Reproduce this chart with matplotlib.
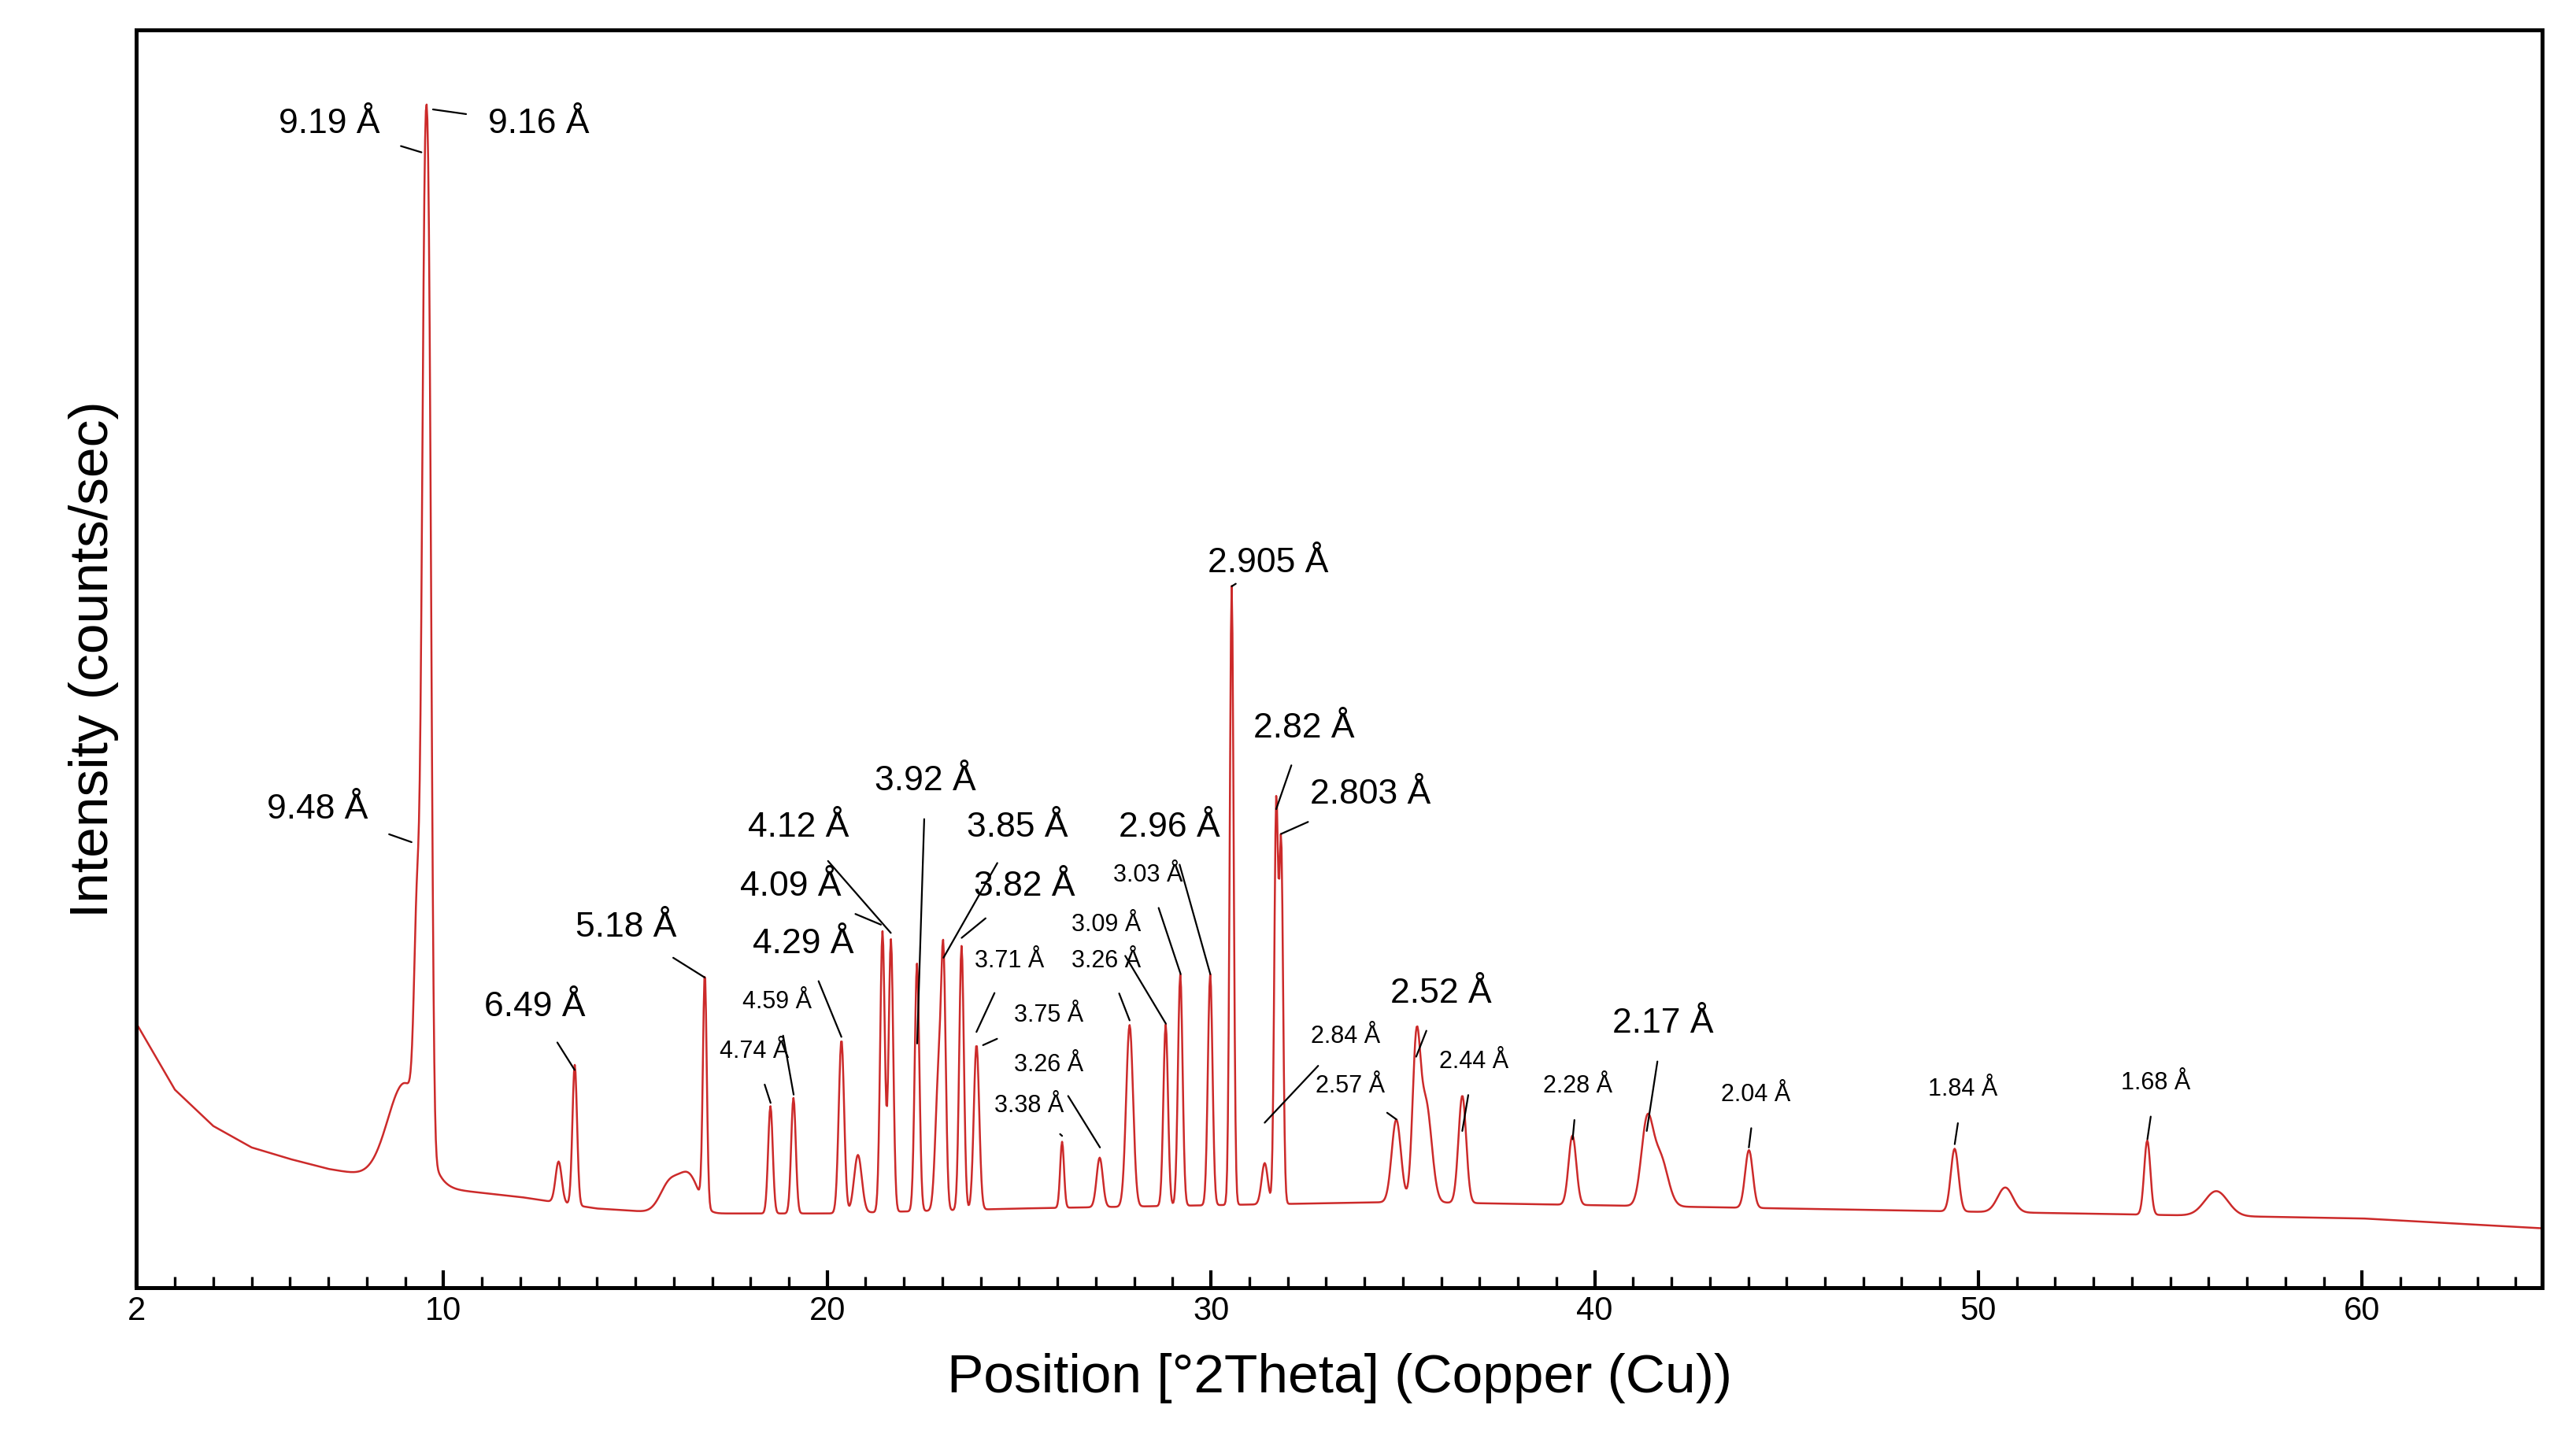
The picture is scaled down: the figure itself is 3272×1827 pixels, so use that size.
import numpy as np
import matplotlib.pyplot as plt
from matplotlib.ticker import MultipleLocator

plt.rcParams['font.family'] = ['Liberation Sans', 'DejaVu Sans']

# background (2theta, intensity)
bg_x = [2, 3, 4, 5, 6, 7, 8, 9, 10, 12, 14, 16, 18, 20, 25, 30, 35, 40, 45, 50, 55, 60, 64.7]
bg_y = [160, 120, 98, 85, 78, 72, 68, 64, 60, 55, 48, 45, 45, 45, 48, 50, 52, 50, 48, 46, 44, 42, 36]

# peaks: position (deg 2theta), height above background, width (sigma)
pk_pos = [9.0, 9.32, 9.50, 9.62, 13.0, 13.42, 15.9, 16.4, 16.81, 18.52, 19.12, 20.37, 20.8,
          21.44, 21.66, 22.34, 22.9, 23.03, 23.50, 23.89, 26.12, 27.1, 27.88, 28.82, 29.2,
          29.98, 30.54, 31.4, 31.7, 31.83, 34.83, 35.35, 35.6, 36.55, 39.42, 41.36, 41.7,
          44.02, 49.38, 50.7, 54.4, 56.2]
pk_h = [60, 130, 452, 452, 25, 85, 18, 22, 140, 65, 70, 105, 35,
        170, 165, 150, 80, 140, 160, 100, 40, 30, 110, 110, 140,
        140, 375, 25, 240, 215, 50, 90, 60, 65, 42, 48, 30,
        35, 38, 15, 45, 15]
pk_w = [0.45, 0.08, 0.07, 0.07, 0.08, 0.06, 0.25, 0.25, 0.05, 0.06, 0.06, 0.07, 0.1,
        0.06, 0.06, 0.06, 0.08, 0.06, 0.06, 0.07, 0.05, 0.08, 0.09, 0.06, 0.06,
        0.06, 0.05, 0.08, 0.05, 0.05, 0.12, 0.1, 0.15, 0.1, 0.1, 0.15, 0.2,
        0.1, 0.1, 0.2, 0.08, 0.3]

# labels: text, text pixel position, arrow target pixel position (reference at 1560 px width)
labels = [
    ("9.19 Å", 200, 75, 256, 92, 'L'), ("9.16 Å", 327, 75, 263, 66, 'L'),
    ("9.48 Å", 193, 490, 250, 510, 'L'), ("6.49 Å", 325, 610, 349, 648, 'L'),
    ("5.18 Å", 380, 562, 428, 592, 'L'), ("4.74 Å", 458, 637, 468, 668, 'S'),
    ("4.59 Å", 472, 607, 482, 663, 'S'), ("4.29 Å", 488, 572, 511, 628, 'L'),
    ("4.09 Å", 480, 537, 535, 560, 'L'), ("4.12 Å", 485, 501, 541, 565, 'L'),
    ("3.92 Å", 562, 473, 557, 632, 'L'), ("3.85 Å", 618, 501, 573, 580, 'L'),
    ("3.82 Å", 622, 537, 584, 568, 'L'), ("3.71 Å", 613, 582, 593, 625, 'S'),
    ("3.75 Å", 637, 615, 597, 633, 'S'), ("3.26 Å", 637, 645, 668, 695, 'S'),
    ("3.38 Å", 625, 670, 645, 688, 'S'), ("3.09 Å", 672, 560, 708, 620, 'S'),
    ("3.26 Å", 672, 582, 686, 618, 'S'), ("3.03 Å", 697, 530, 717, 590, 'S'),
    ("2.96 Å", 710, 501, 735, 590, 'L'), ("2.905 Å", 770, 341, 748, 355, 'L'),
    ("2.84 Å", 817, 628, 768, 680, 'S'), ("2.82 Å", 792, 441, 775, 490, 'L'),
    ("2.803 Å", 832, 481, 778, 505, 'L'), ("2.57 Å", 820, 658, 848, 678, 'S'),
    ("2.52 Å", 875, 602, 860, 640, 'L'), ("2.44 Å", 895, 643, 888, 685, 'S'),
    ("2.28 Å", 958, 658, 955, 690, 'S'), ("2.17 Å", 1010, 620, 1000, 685, 'L'),
    ("2.04 Å", 1066, 663, 1062, 695, 'S'), ("1.84 Å", 1192, 660, 1187, 693, 'S'),
    ("1.68 Å", 1309, 656, 1304, 690, 'S'),
]


def px(x, y):
    return 2 + (x - 83) / 23.3, 780 - y


tt = np.arange(2, 64.7, 0.02)
inten = np.interp(tt, bg_x, bg_y)
for p, h, w in zip(pk_pos, pk_h, pk_w):
    inten += h * np.exp(-0.5 * ((tt - p) / w) ** 2)

fig = plt.figure(figsize=(16.36, 9.135), dpi=200)
ax = fig.add_axes([0.053, 0.1045, 0.934, 0.8745])
ax.plot(tt, inten, color='#cc2a2a', lw=0.9)
ax.set_xlim(2, 64.7)
ax.set_ylim(0, 762)
ax.set_yticks([])
ax.xaxis.set_major_locator(MultipleLocator(10))
ax.xaxis.set_minor_locator(MultipleLocator(1))
ax.set_xticks([2, 10, 20, 30, 40, 50, 60])
ax.tick_params(axis='x', which='major', direction='in', length=8, width=1.5, labelsize=15)
ax.tick_params(axis='x', which='minor', direction='in', length=5, width=1.2)
for s in ax.spines.values():
    s.set_linewidth(1.8)
ax.set_xlabel("Position [°2Theta] (Copper (Cu))", fontsize=25, labelpad=12)
ax.set_ylabel("Intensity (counts/sec)", fontsize=25, labelpad=8)

for txt, tx, ty, ax_, ay, sz in labels:
    ax.annotate(txt, xy=px(ax_, ay), xytext=px(tx, ty), ha='center', va='center',
                fontsize=16 if sz == 'L' else 11,
                arrowprops=dict(arrowstyle='-', color='black', lw=0.8, shrinkA=8, shrinkB=0))

fig.savefig("out.png")
